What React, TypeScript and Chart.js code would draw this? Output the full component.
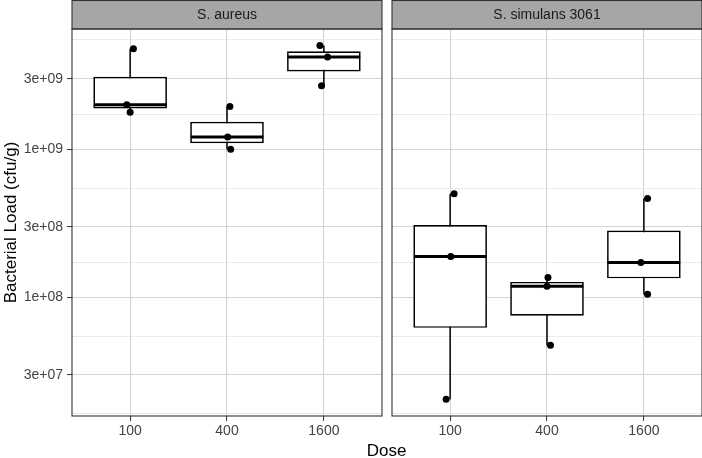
import React, { useEffect, useRef } from 'react';
import { Chart, registerables } from 'chart.js';

Chart.register(...registerables);

const FONT = '"Liberation Sans", Arial, Helvetica, sans-serif';

// ---- data ----
const doses = ['100', '400', '1600'];
const panelTitles = ['S. aureus', 'S. simulans 3061'];

const aureusLoads = [
  [4.78e9, 2.0e9, 1.78e9],
  [1.95e9, 1.21e9, 1.0e9],
  [5.02e9, 4.2e9, 2.69e9],
];
const aureusJitter = [
  [0.034, -0.034, 0.0],
  [0.03, 0.007, 0.038],
  [-0.041, 0.038, -0.024],
];

const simulansLoads = [
  [5.02e8, 1.89e8, 2.05e7],
  [1.36e8, 1.19e8, 4.74e7],
  [4.66e8, 1.72e8, 1.05e8],
];
const simulansJitter = [
  [0.041, 0.007, -0.041],
  [0.01, 0.0, 0.036],
  [0.038, -0.031, 0.038],
];

const majorBreaks = [3e7, 1e8, 3e8, 1e9, 3e9];
const majorLabels = ['3e+07', '1e+08', '3e+08', '1e+09', '3e+09'];
const minorBreaks = [1.64e7, 5.48e7, 1.73e8, 5.48e8, 1.73e9, 5.5e9];
const yMin = 1.58e7;
const yMax = 6.5e9;

// ---- helpers ----
function boxStats(vals: number[]) {
  const logs = vals.map((v) => Math.log10(v)).sort((a, b) => a - b);
  const q = (p: number) => {
    const h = (logs.length - 1) * p;
    const lo = Math.floor(h);
    const hi = Math.ceil(h);
    return logs[lo] + (h - lo) * (logs[hi] - logs[lo]);
  };
  const q1 = q(0.25);
  const med = q(0.5);
  const q3 = q(0.75);
  const iqr = q3 - q1;
  const lo = Math.min(...logs.filter((v) => v >= q1 - 1.5 * iqr));
  const hi = Math.max(...logs.filter((v) => v <= q3 + 1.5 * iqr));
  const p = (v: number) => Math.pow(10, v);
  return { q1: p(q1), med: p(med), q3: p(q3), lo: p(lo), hi: p(hi) };
}

const panelPlugin = {
  id: 'panelDecor',
  afterDraw(chart: any, _args: any, opts: any) {
    const { ctx, chartArea: a } = chart;
    ctx.save();
    // strip
    ctx.fillStyle = '#a6a6a6';
    ctx.fillRect(a.left, 0.5, a.right - a.left, a.top - 0.5);
    ctx.strokeStyle = '#333333';
    ctx.lineWidth = 1.1;
    ctx.strokeRect(a.left, 0.5, a.right - a.left, a.top - 0.5);
    // panel frame
    ctx.strokeRect(a.left, a.top, a.right - a.left, a.bottom - a.top);
    ctx.fillStyle = '#1a1a1a';
    ctx.font = `14px ${FONT}`;
    ctx.textAlign = 'center';
    ctx.textBaseline = 'middle';
    ctx.fillText(opts.title, (a.left + a.right) / 2, a.top / 2 + 0.5);
    ctx.restore();
  },
};

function makeConfig(title: string, loads: number[][], jitter: number[][], showY: boolean): any {
  const stats = loads.map(boxStats);
  const datasets: any[] = [];
  stats.forEach((s, i) => {
    datasets.push({
      type: 'scatter',
      showLine: true,
      data: [
        { x: i + 1, y: s.lo },
        { x: i + 1, y: s.hi },
      ],
      borderColor: '#000',
      borderWidth: 1.5,
      pointRadius: 0,
      order: 4,
    });
  });
  datasets.push({
    type: 'bar',
    data: stats.map((s, i) => ({ x: i + 1, y: [s.q1, s.q3] })),
    backgroundColor: '#ffffff',
    borderColor: '#000',
    borderWidth: 1.7,
    borderSkipped: false,
    barPercentage: 0.76,
    categoryPercentage: 1,
    order: 3,
  });
  stats.forEach((s, i) => {
    datasets.push({
      type: 'scatter',
      showLine: true,
      data: [
        { x: i + 1 - 0.375, y: s.med },
        { x: i + 1 + 0.375, y: s.med },
      ],
      borderColor: '#000',
      borderWidth: 3,
      pointRadius: 0,
      order: 2,
    });
  });
  const pts: any[] = [];
  loads.forEach((arr, i) => arr.forEach((v, j) => pts.push({ x: i + 1 + jitter[i][j], y: v })));
  datasets.push({
    type: 'scatter',
    data: pts,
    backgroundColor: '#000',
    borderColor: '#000',
    pointRadius: 3.5,
    pointBorderWidth: 0,
    order: 1,
  });

  const isMajor = (v: number) => majorBreaks.indexOf(v) >= 0;

  return {
    type: 'scatter',
    data: { datasets },
    plugins: [panelPlugin],
    options: {
      animation: false,
      responsive: false,
      maintainAspectRatio: false,
      events: [],
      layout: { padding: { top: 29, left: showY ? 0 : 5, right: showY ? 5 : 1, bottom: 0 } },
      plugins: {
        legend: { display: false },
        tooltip: { enabled: false },
        panelDecor: { title },
      },
      scales: {
        x: {
          type: 'linear',
          min: 0.4,
          max: 3.6,
          offset: false,
          afterBuildTicks: (s: any) => {
            s.ticks = doses.map((_, i) => ({ value: i + 1 }));
          },
          afterFit: (s: any) => {
            s.height = 42;
            s.paddingLeft = 0;
            s.paddingRight = 0;
          },
          ticks: {
            autoSkip: false,
            maxRotation: 0,
            padding: 2,
            color: '#444444',
            font: { family: FONT, size: 14 },
            callback: (v: number) => doses[Math.round(v) - 1] ?? '',
          },
          grid: {
            offset: false,
            color: '#d3d3d3',
            lineWidth: 1.1,
            tickLength: 5,
            tickColor: '#333333',
            tickWidth: 1,
          },
          border: { display: false },
        },
        y: {
          type: 'logarithmic',
          min: yMin,
          max: yMax,
          afterBuildTicks: (s: any) => {
            s.ticks = [...minorBreaks, ...majorBreaks].sort((a, b) => a - b).map((v) => ({ value: v }));
          },
          afterFit: (s: any) => {
            s.width = showY ? 72 : 0;
            s.paddingTop = 0;
            s.paddingBottom = 0;
          },
          ticks: {
            display: showY,
            autoSkip: false,
            padding: 4,
            color: '#444444',
            font: { family: FONT, size: 14 },
            callback: (v: number) => {
              const k = majorBreaks.indexOf(v);
              return k >= 0 ? majorLabels[k] : '';
            },
          },
          grid: {
            color: (c: any) => (c.tick && isMajor(c.tick.value) ? '#d3d3d3' : '#e6e6e6'),
            lineWidth: (c: any) => (c.tick && isMajor(c.tick.value) ? 1.1 : 0.8),
            drawTicks: showY,
            tickLength: 5,
            tickColor: (c: any) => (c.tick && isMajor(c.tick.value) ? '#333333' : 'rgba(0,0,0,0)'),
            tickWidth: 1,
          },
          border: { display: false },
          title: {
            display: showY,
            text: 'Bacterial Load (cfu/g)',
            color: '#000',
            font: { family: FONT, size: 17 },
            padding: { top: 1, bottom: 0 },
          },
        },
      },
    },
  };
}

export default function App() {
  const leftRef = useRef<HTMLCanvasElement | null>(null);
  const rightRef = useRef<HTMLCanvasElement | null>(null);

  useEffect(() => {
    const c1 = new Chart(leftRef.current as HTMLCanvasElement, makeConfig(panelTitles[0], aureusLoads, aureusJitter, true));
    const c2 = new Chart(rightRef.current as HTMLCanvasElement, makeConfig(panelTitles[1], simulansLoads, simulansJitter, false));
    return () => {
      c1.destroy();
      c2.destroy();
    };
  }, []);

  return (
    <div style={{ position: 'absolute', left: 0, top: 0, width: 702, height: 458, background: '#fff', overflow: 'hidden' }}>
      <canvas ref={leftRef} width={387} height={458} style={{ position: 'absolute', left: 0, top: 0 }} />
      <canvas ref={rightRef} width={319} height={458} style={{ position: 'absolute', left: 387, top: 0 }} />
      <div
        style={{
          position: 'absolute',
          left: 72,
          width: 629,
          top: 441,
          textAlign: 'center',
          fontFamily: FONT,
          fontSize: 17,
          lineHeight: '20px',
          color: '#000',
        }}
      >
        Dose
      </div>
    </div>
  );
}
